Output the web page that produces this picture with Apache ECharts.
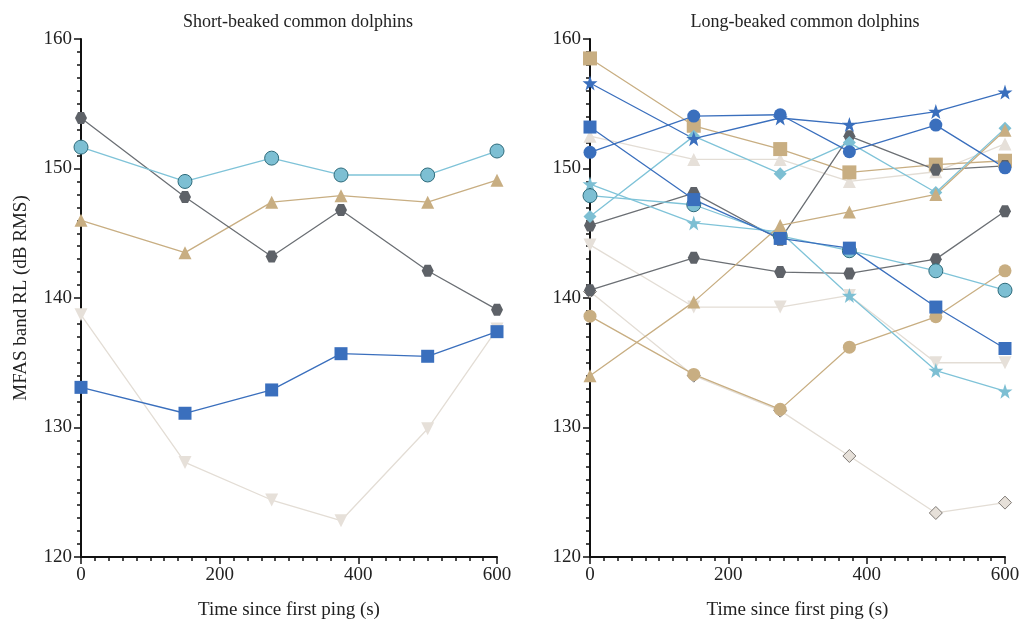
<!DOCTYPE html>
<html>
<head>
<meta charset="utf-8">
<script src="https://cdn.jsdelivr.net/npm/echarts@6/dist/echarts.min.js"></script>
<style>
html,body{margin:0;padding:0;background:#fff;}
#chart{width:1023px;height:621px;}
</style>
</head>
<body>
<div id="chart"></div>
<script>
// ---- data ----
const times = [0, 150, 275, 375, 500, 600];
const panelTitles = ['Short-beaked common dolphins', 'Long-beaked common dolphins'];
const xTicks = [0, 200, 400, 600];
const yTicks = [120, 130, 140, 150, 160];
const xAxisName = 'Time since first ping (s)';
const yAxisName = 'MFAS band RL (dB RMS)';

// Short-beaked
const sbBeigeDown = [138.7, 127.3, 124.4, 122.8, 129.9, 137.6];
const sbTanTri    = [146.0, 143.5, 147.4, 147.9, 147.4, 149.1];
const sbGrayHex   = [153.9, 147.8, 143.2, 146.8, 142.1, 139.1];
const sbBlueCirc  = [151.65, 149.0, 150.8, 149.5, 149.5, 151.35];
const sbBlueSq    = [133.1, 131.1, 132.9, 135.7, 135.5, 137.4];

// Long-beaked
const lbBeigeDiam  = [140.5, 134.0, 131.3, 127.8, 123.4, 124.2];
const lbBeigeDown  = [144.1, 139.3, 139.3, 140.2, 135.0, 135.0];
const lbBeigeUp    = [152.5, 150.7, 150.7, 149.0, 149.75, 151.9];
const lbTanCirc    = [138.6, 134.1, 131.4, 136.2, 138.55, 142.1];
const lbTanSq      = [158.5, 153.3, 151.5, 149.7, 150.3, 150.6];
const lbGrayHexB   = [140.6, 143.1, 142.0, 141.9, 143.0, 146.7];
const lbGrayHexA   = [145.6, 148.1, 144.5, 152.5, 149.9, 150.2];
const lbLBStar     = [148.8, 145.8, 145.1, 140.2, 134.4, 132.8];
const lbLBDiam     = [146.3, 152.5, 149.6, 152.0, 148.15, 153.1];
const lbLBCirc     = [147.9, 147.2, 144.8, 143.65, 142.1, 140.6];
const lbTanTri     = [134.0, 139.7, 145.6, 146.65, 148.0, 152.95];
const lbBlueSq     = [153.2, 147.6, 144.6, 143.85, 139.3, 136.1];
const lbBlueStar   = [156.6, 152.3, 153.9, 153.4, 154.4, 155.9];
const lbBlueCirc   = [151.25, 154.05, 154.15, 151.3, 153.35, 150.05];

// ---- styles ----
const C = {
  gray: '#5e6268', grayLine: '#6b6f74',
  lblue: '#7dbfd3', lblueLine: '#7fc3d8', lblueBorder: '#2f6c7c',
  tan: '#c8ae82', blue: '#3a6fbd', beige: '#e6e0d9', beigeLine: '#e3ddd5', diamBorder: '#7f7a75'
};
const STAR = 'path://M50,0 L61.8,35.1 L98.1,35.1 L68.8,56.7 L79.4,91 L50,70 L20.6,91 L31.2,56.7 L1.9,35.1 L38.2,35.1 Z';
const HEX = 'path://M25,0 L75,0 L100,50 L75,100 L25,100 L0,50 Z';

function pts(v){ return times.map((t,i)=>[t, v[i]]); }
function ser(idx, vals, line, fill, symbol, size, extra){
  extra = extra || {};
  return {
    type: 'line', xAxisIndex: idx, yAxisIndex: idx,
    data: pts(vals), symbol: symbol, symbolSize: size,
    symbolRotate: extra.rotate || 0,
    showSymbol: true, animation: false, silent: true,
    lineStyle: {color: line, width: 1.3},
    itemStyle: {color: fill, borderColor: extra.border || fill, borderWidth: extra.border ? 1 : 0, opacity: 1}
  };
}

const font = 'Liberation Serif';
function xAx(idx){
  return {
    type: 'value', gridIndex: idx, min: 0, max: 600, interval: 200,
    name: xAxisName, nameLocation: 'middle', nameGap: 44,
    nameTextStyle: {fontFamily: font, fontSize: 19, color: '#222'},
    axisLine: {show: true, lineStyle: {color: '#111', width: 2}},
    axisTick: {show: true, length: 7, lineStyle: {color: '#111', width: 1.5}},
    minorTick: {show: true, splitNumber: 10, length: 4, lineStyle: {color: '#111', width: 1.5}},
    axisLabel: {fontFamily: font, fontSize: 19, color: '#222', margin: 9},
    splitLine: {show: false}
  };
}
function yAx(idx){
  const a = {
    type: 'value', gridIndex: idx, min: 120, max: 160, interval: 10,
    axisLine: {show: true, lineStyle: {color: '#111', width: 2}},
    axisTick: {show: true, length: 7, lineStyle: {color: '#111', width: 1.5}},
    minorTick: {show: true, splitNumber: 10, length: 4, lineStyle: {color: '#111', width: 1.5}},
    axisLabel: {fontFamily: font, fontSize: 19, color: '#222', margin: 9},
    splitLine: {show: false}
  };
  if (idx === 0) {
    a.name = yAxisName; a.nameLocation = 'middle'; a.nameGap = 50; a.nameRotate = 90;
    a.nameTextStyle = {fontFamily: font, fontSize: 19, color: '#222'};
  }
  return a;
}

const option = {
  backgroundColor: '#fff',
  animation: false,
  title: [
    {text: panelTitles[0], left: 293, top: 8, textAlign: 'center',
     textStyle: {fontFamily: font, fontSize: 18, fontWeight: 'normal', color: '#222'}},
    {text: panelTitles[1], left: 800, top: 8, textAlign: 'center',
     textStyle: {fontFamily: font, fontSize: 18, fontWeight: 'normal', color: '#222'}}
  ],
  grid: [
    {left: 81, top: 39, width: 416, height: 518, containLabel: false, outerBoundsMode: 'none'},
    {left: 590, top: 39, width: 415, height: 518, containLabel: false, outerBoundsMode: 'none'}
  ],
  xAxis: [xAx(0), xAx(1)],
  yAxis: [yAx(0), yAx(1)],
  series: [
    ser(0, sbBeigeDown, C.beigeLine, C.beige, 'triangle', 13, {rotate: 180}),
    ser(0, sbTanTri, C.tan, C.tan, 'triangle', 13),
    ser(0, sbGrayHex, C.grayLine, C.gray, HEX, 12),
    ser(0, sbBlueCirc, C.lblueLine, C.lblue, 'circle', 14, {border: C.lblueBorder}),
    ser(0, sbBlueSq, C.blue, C.blue, 'rect', 13),

    ser(1, lbBeigeDiam, C.beigeLine, C.beige, 'diamond', 13, {border: C.diamBorder}),
    ser(1, lbBeigeDown, C.beigeLine, C.beige, 'triangle', 13, {rotate: 180}),
    ser(1, lbBeigeUp, C.beigeLine, C.beige, 'triangle', 13),
    ser(1, lbTanCirc, C.tan, C.tan, 'circle', 13),
    ser(1, lbTanSq, C.tan, C.tan, 'rect', 14),
    ser(1, lbGrayHexB, C.grayLine, C.gray, HEX, 12),
    ser(1, lbGrayHexA, C.grayLine, C.gray, HEX, 12),
    ser(1, lbLBStar, C.lblueLine, C.lblue, STAR, 15),
    ser(1, lbLBDiam, C.lblueLine, C.lblue, 'diamond', 13),
    ser(1, lbLBCirc, C.lblueLine, C.lblue, 'circle', 14, {border: C.lblueBorder}),
    ser(1, lbTanTri, C.tan, C.tan, 'triangle', 13),
    ser(1, lbBlueSq, C.blue, C.blue, 'rect', 13),
    ser(1, lbBlueStar, C.blue, C.blue, STAR, 15),
    ser(1, lbBlueCirc, C.blue, C.blue, 'circle', 13)
  ]
};
const chart = echarts.init(document.getElementById('chart'), null, {renderer: 'canvas'});
chart.setOption(option);
</script>
</body>
</html>
